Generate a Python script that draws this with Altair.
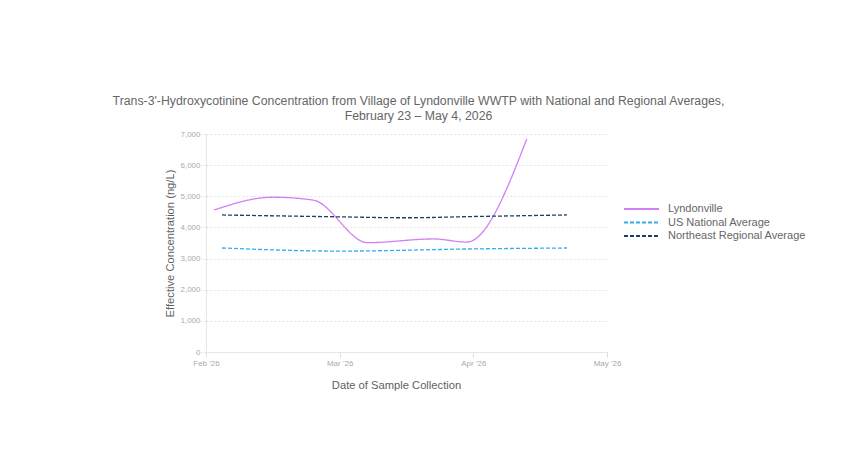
import altair as alt
import pandas as pd

# x positions are month offsets from Feb 1 2026 (0 = Feb '26, 3 = May '26)
month_labels = ["Feb '26", "Mar '26", "Apr '26", "May '26"]

lyn_x = [0.06, 0.50, 0.80, 1.21, 1.70, 1.95, 2.40]
lyn_y = [4560, 4970, 4880, 3510, 3630, 3530, 6840]

us_x = [0.12, 1.00, 2.00, 2.70]
us_y = [3340, 3240, 3310, 3340]

ne_x = [0.12, 1.00, 1.50, 2.00, 2.70]
ne_y = [4400, 4340, 4310, 4350, 4400]

series = ["Lyndonville", "US National Average", "Northeast Regional Average"]
colors = ["#cf80f5", "#33adec", "#1b416b"]

rows = []
for name, xs, ys in zip(series, [lyn_x, us_x, ne_x], [lyn_y, us_y, ne_y]):
    for x, y in zip(xs, ys):
        rows.append({"series": name, "month": x, "value": y})
df = pd.DataFrame(rows)

label_expr = "[" + ",".join(f'"{m}"' for m in month_labels) + "][datum.value]"

FONT = "Liberation Sans"
NARROW = "Liberation Sans Narrow, Liberation Sans"

chart = (
    alt.Chart(df)
    .mark_line(interpolate="monotone", strokeWidth=1.3)
    .encode(
        x=alt.X("month:Q", title="Date of Sample Collection",
                scale=alt.Scale(domain=[0, 3], nice=False),
                axis=alt.Axis(values=[0, 1, 2, 3], labelExpr=label_expr,
                              labelFlush=False, grid=False, titlePadding=12,
                              titleX=190, tickSize=5)),
        y=alt.Y("value:Q", title="Effective Concentration (ng/L)",
                scale=alt.Scale(domain=[0, 7000], nice=False),
                axis=alt.Axis(values=[0, 1000, 2000, 3000, 4000, 5000, 6000, 7000],
                              format=",.0f", titlePadding=4, labelPadding=1,
                              tickSize=5, tickDash=[2, 2])),
        color=alt.Color("series:N", sort=series,
                        scale=alt.Scale(domain=series, range=colors),
                        legend=alt.Legend(title=None, orient="none",
                                          legendX=417, legendY=69)),
        strokeDash=alt.StrokeDash("series:N", sort=series,
                                  scale=alt.Scale(domain=series, range=[[1, 0], [4, 2], [4, 2]]),
                                  legend=None),
        detail="series:N",
    )
    .properties(
        width=401,
        height=218,
        autosize=alt.AutoSizeParams(type="none"),
        padding={"left": 198, "top": 126, "right": 251, "bottom": 112},
        title=alt.Title(
            ["Trans-3'-Hydroxycotinine Concentration from Village of Lyndonville WWTP with National and Regional Averages,",
             "February 23 \u2013 May 4, 2026"],
            anchor="middle", dx=12, offset=8, fontSize=12.3, fontWeight="normal",
            color="#666666", font=FONT, lineHeight=15,
        ),
    )
    .configure_view(stroke=None)
    .configure_axis(
        labelFont=NARROW, labelFontSize=8, labelColor="#aaaaaa",
        titleFont=FONT, titleFontSize=11.2, titleColor="#5f5f5f", titleFontWeight="normal",
        domainColor="#e6e6e6", tickColor="#dddddd",
        gridColor="#e2e2e2", gridDash=[2, 2],
    )
    .configure_legend(
        labelFont=FONT, labelFontSize=11, labelColor="#666666",
        symbolType="M-1,0H6", symbolSize=100, symbolStrokeWidth=2,
        rowPadding=2.5, labelOffset=33,
    )
)

chart.save("out.html", embed_options={"renderer": "svg", "actions": False})
